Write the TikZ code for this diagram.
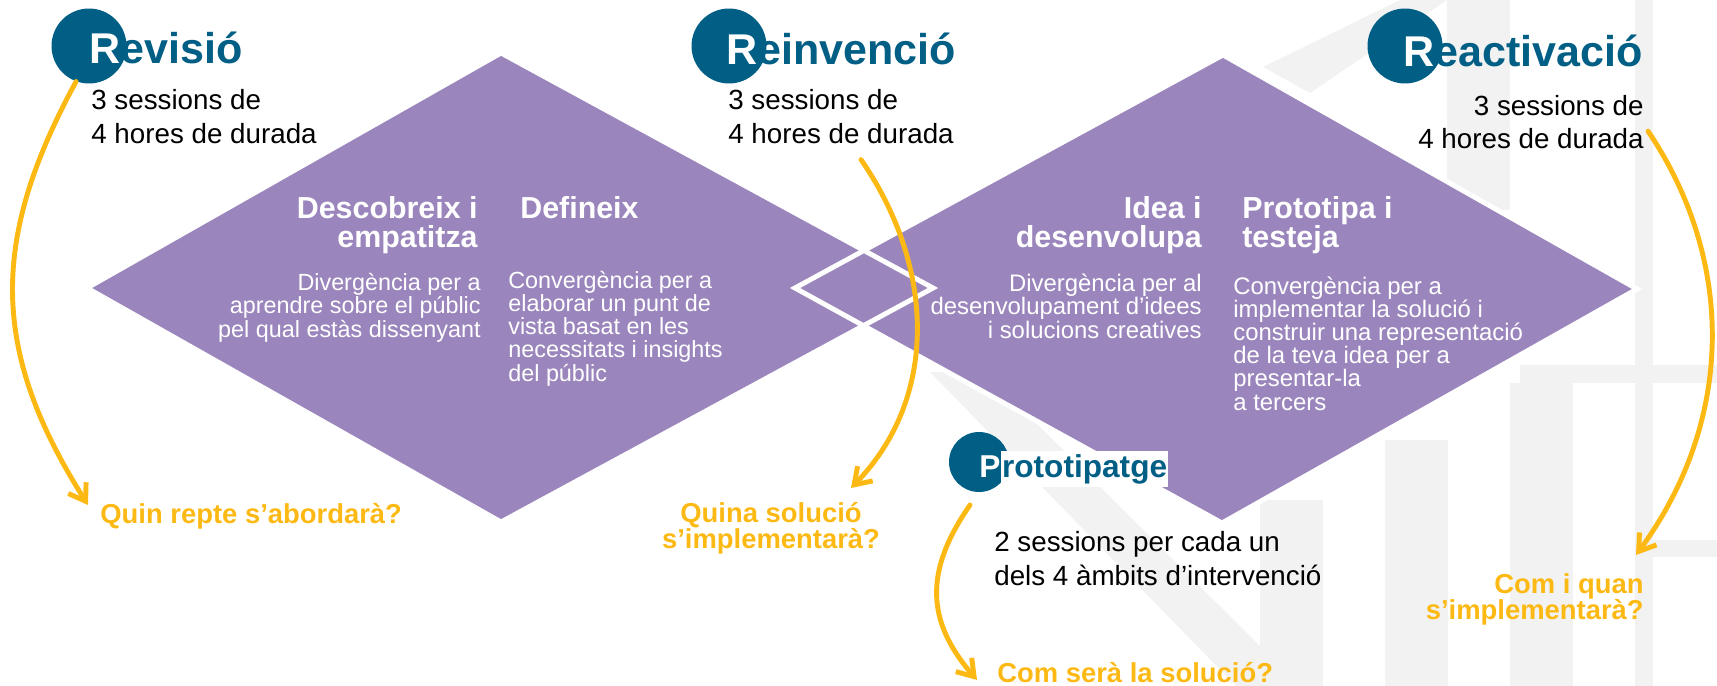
\documentclass[tikz,border=0pt]{standalone}
\usepackage{fontspec}
\setmainfont{Liberation Sans}
\usetikzlibrary{arrows.meta,positioning}

\definecolor{lila}{RGB}{154,134,188}
\definecolor{blauR}{RGB}{1,94,132}
\definecolor{groc}{RGB}{253,185,19}
\definecolor{grisfons}{RGB}{242,242,242}

\tikzset{
  cercle/.style={circle, fill=blauR, minimum size=1.5cm, inner sep=0pt},
  fase/.style={font=\bfseries\fontsize{24.5}{26}\selectfont, text=blauR, inner sep=0pt, anchor=base west},
  info/.style={font=\fontsize{15.8}{19.3}\selectfont, inner sep=0pt},
  etapa/.style={font=\bfseries\fontsize{17.3}{16.5}\selectfont, text=white, inner sep=0pt},
  detall/.style={font=\fontsize{13.3}{13.1}\selectfont, text=white, inner sep=0pt},
  pregunta/.style={font=\bfseries\fontsize{15.6}{14.8}\selectfont, text=groc, inner sep=0pt},
  fletxa/.style={groc, line width=2.8pt, ->},
}

\begin{document}
\begin{tikzpicture}[x=0.02cm,y=-0.02cm,>={Straight Barb[length=9pt,width=12pt]},line cap=round]
            \useasboundingbox (0,0) rectangle (1717,686);

            % watermark in the background
            \fill[grisfons] (1447,0) rectangle (1510,210);
            \fill[grisfons] (1635,0) rectangle (1653,686);
            \fill[grisfons] (1385,440) rectangle (1448,686);
            \fill[grisfons] (1510,383) rectangle (1573,686);
            \fill[grisfons] (1520,365) rectangle (1717,383);
            \fill[grisfons] (1653,540) rectangle (1717,557);
            \fill[grisfons] (1260,500) rectangle (1323,686);
            \fill[grisfons] (1263,67) -- (1400,0) -- (1447,0) -- (1310,93) -- cycle;
            \fill[grisfons] (930,372) -- (985,372) -- (1300,686) -- (1236,686) -- cycle;

            % the two diamonds
            \coordinate (e1) at (87,288);   \coordinate (e2) at (501,53);
            \coordinate (e3) at (933,288);  \coordinate (e4) at (501,522);
            \coordinate (d1) at (795,288);  \coordinate (d2) at (1223,55);
            \coordinate (d3) at (1637,289); \coordinate (d4) at (1222,523);
            \fill[lila] (e1) -- (e2) -- (e3) -- (e4) -- cycle;
            \fill[lila] (d1) -- (d2) -- (d3) -- (d4) -- cycle;
            \draw[white, line width=2.8pt, line join=miter] (e1) -- (e2) -- (e3) -- (e4) -- cycle;
            \draw[white, line width=2.8pt, line join=miter] (d1) -- (d2) -- (d3) -- (d4) -- cycle;

            % text in the diamonds (base = last line)
            \node[etapa, anchor=base east, align=right] (des) at (478,247) {Descobreix i\\empatitza};
            \node[etapa, anchor=base west, align=left] (def) at (520,218) {Defineix};
            \node[detall, anchor=base east, align=right] (des-t) at (481,337) {Divergència per a\\aprendre sobre el públic\\pel qual estàs dissenyant};
            \node[detall, anchor=base west, align=left] (def-t) at (508,381) {Convergència per a\\elaborar un punt de\\vista basat en les\\necessitats i insights\\del públic};
            \node[etapa, anchor=base east, align=right] (ide) at (1202,247) {Idea i\\desenvolupa};
            \node[etapa, anchor=base west, align=left] (pro) at (1242,247) {Prototipa i\\testeja};
            \node[detall, font=\fontsize{13.6}{13.1}\selectfont, anchor=base east, align=right] (ide-t) at (1202,338) {Divergència per al\\desenvolupament d’idees\\i solucions creatives};
            \node[detall, font=\fontsize{13.6}{13.1}\selectfont, anchor=base west, align=left] (pro-t) at (1233,410) {Convergència per a\\implementar la solució i\\construir una representació\\de la teva idea per a\\presentar-la\\a tercers};

            % the phases
            \node[cercle] (rev) at (89,46) {};
            \node[fase] (rev-t) at (89,64) {\textcolor{white}{R}evisió};
            \node[info, anchor=base west, align=left] (rev-info) at (91,143) {3 sessions de\\4 hores de durada};

            \node[cercle] (rein) at (729,46) {};
            \node[fase] (rein-t) at (726,65) {\textcolor{white}{R}einvenció};
            \node[info, anchor=base west, align=left] (rein-info) at (728,143) {3 sessions de\\4 hores de durada};

            \node[cercle] (rea) at (1405,46) {};
            \node[fase] (rea-t) at (1403,67) {\textcolor{white}{R}eactivació};
            \node[info, anchor=base east, align=right] (rea-info) at (1644,149) {3 sessions de\\4 hores de durada};

            \node[cercle, minimum size=1.2cm] (ptg) at (979,462) {};
            \node[fase, font=\bfseries\fontsize{18}{20}\selectfont, text=white] (ptg-P) at (979,477) {P};
            \node[fase, font=\bfseries\fontsize{18}{20}\selectfont, fill=white, inner xsep=0.5pt, inner ysep=2pt] (ptg-t) at (ptg-P.base east) {rototipatge};
            \node[info, anchor=base west, align=left] (ptg-info) at (994,585) {2 sessions per cada un\\dels 4 àmbits d’intervenció};

            % the questions
            \node[pregunta, anchor=base west] (q-rev) at (100,523) {Quin repte s’abordarà?};
            \node[pregunta, anchor=base, align=center] (q-rein) at (771,548) {Quina solució\\s’implementarà?};
            \node[pregunta, anchor=base west] (q-ptg) at (997,682) {Com serà la solució?};
            \node[pregunta, anchor=base east, align=right] (q-rea) at (1644,619) {Com i quan\\s’implementarà?};

            % arrow ends
            \coordinate (rev-fi) at (88,505);
            \coordinate (rein-fi) at (851,488);
            \coordinate (ptg-fi) at (977,680);
            \coordinate (rea-fi) at (1636,555);

            % yellow arrows
            \draw[fletxa] (rev.250) .. controls (-10,240) and (-10,350) .. (rev-fi);
            \draw[fletxa] ([xshift=4mm,yshift=-3.2mm]rein-info.south) .. controls (937,270) and (937,400) .. (rein-fi);
            \draw[fletxa] ([xshift=-1.8mm,yshift=-8.6mm]ptg.center) .. controls (925,570) and (925,620) .. (ptg-fi);
            \draw[fletxa] ([xshift=0.8mm,yshift=-1.8mm]rea-info.east) .. controls (1735,260) and (1735,420) .. (rea-fi);
        \end{tikzpicture}
\end{document}
